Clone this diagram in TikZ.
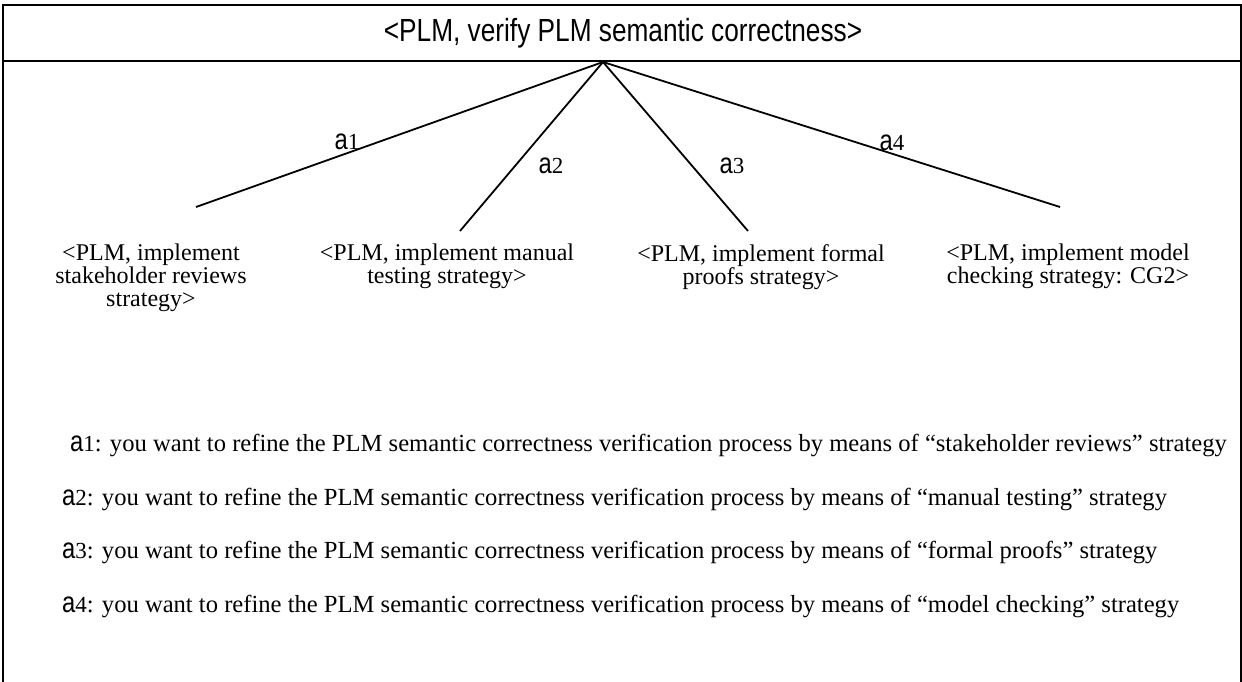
\documentclass[tikz,border=0pt]{standalone}
\usepackage{fontspec}
\setmainfont{Liberation Serif}
\newfontfamily\narrowsans[FakeStretch=0.82]{Liberation Sans}
\newcommand{\albl}[1]{{\narrowsans\fontsize{29}{29}\selectfont a}{\fontsize{23}{23}\selectfont #1}}
\begin{document}
\begin{tikzpicture}[x=1pt,y=-1pt,
  frame/.style={line width=2pt},
  branch/.style={line width=1.8pt},
  childtext/.style={align=center, inner sep=0pt, anchor=north, font=\fontsize{24}{23}\selectfont},
  edgelabel/.style={inner sep=0pt},
  legend/.style={anchor=base west, inner sep=0pt, font=\fontsize{24.6}{25}\selectfont},
  titletext/.style={font=\narrowsans\fontsize{32}{32}\selectfont, inner sep=0pt}]
\useasboundingbox (0,0) rectangle (1242,682);
% frame
\draw[frame] (3,682) -- (3,5) -- (1241,5) -- (1241,682);
\draw[frame] (3,61) -- (1241,61);
\node[titletext] (title) at (623,33) {<PLM, verify PLM semantic correctness>};
% tree
\coordinate (root) at (603,62);
\coordinate (e1) at (196,207);
\coordinate (e2) at (460,231);
\coordinate (e3) at (748,231);
\coordinate (e4) at (1060,207);
\draw[branch] (root) -- (e1);
\draw[branch] (root) -- (e2);
\draw[branch] (root) -- (e3);
\draw[branch] (root) -- (e4);
\node[edgelabel] (l1) at (347,142) {\albl{1}};
\node[edgelabel] (l2) at (551,166) {\albl{2}};
\node[edgelabel] (l3) at (732,166) {\albl{3}};
\node[edgelabel] (l4) at (892,143) {\albl{4}};
% children
\node[childtext] (n1) at (151,244) {<PLM, implement\\stakeholder reviews\\strategy>};
\node[childtext] (n2) at (447,244) {<PLM, implement manual\\testing strategy>};
\node[childtext] (n3) at (761,244) {<PLM, implement formal\\proofs strategy>};
\node[childtext] (n4) at (1068,244) {<PLM, implement model\\checking strategy: CG2>};
% legend
\node[legend] (d1) at (70,451) {\albl{1}: you want to refine the PLM semantic correctness verification process by means of “stakeholder reviews” strategy};
\node[legend] (d2) at (62,505) {\albl{2}: you want to refine the PLM semantic correctness verification process by means of “manual testing” strategy};
\node[legend] (d3) at (62,558) {\albl{3}: you want to refine the PLM semantic correctness verification process by means of “formal proofs” strategy};
\node[legend] (d4) at (62,612) {\albl{4}: you want to refine the PLM semantic correctness verification process by means of “model checking” strategy};
\end{tikzpicture}
\end{document}
